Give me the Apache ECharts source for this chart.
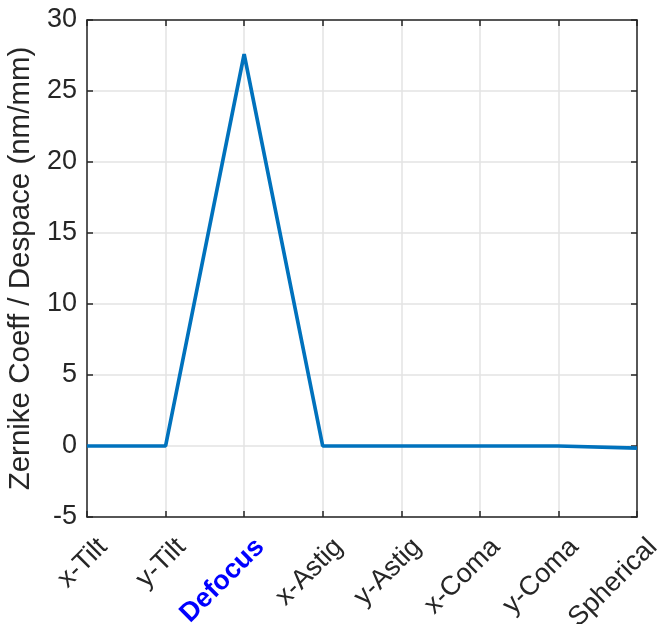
<!DOCTYPE html>
<html>
<head>
<meta charset="utf-8">
<script src="https://cdn.jsdelivr.net/npm/echarts@6/dist/echarts.min.js"></script>
<style>html,body{margin:0;padding:0;background:#fff;}#c{width:662px;height:624px;}</style>
</head>
<body>
<div id="c"></div>
<script>
const categories = ['x-Tilt', 'y-Tilt', 'Defocus', 'x-Astig', 'y-Astig', 'x-Coma', 'y-Coma', 'Spherical'];
const values = [0, 0, 27.6, 0, 0, 0, 0, -0.15];
const yTicks = { min: -5, max: 30, interval: 5 };
const highlighted = 'Defocus';

const axisColor = '#262626';
const font = 'Liberation Sans, Arial, Helvetica, sans-serif';
const chart = echarts.init(document.getElementById('c'), null, { renderer: 'canvas' });
chart.setOption({
  animation: false,
  grid: { left: 87, top: 20, right: 25, bottom: 107, containLabel: false, outerBoundsMode: 'none' },
  xAxis: [{
    type: 'category', data: categories, boundaryGap: false,
    axisLine: { onZero: false, lineStyle: { color: axisColor, width: 1.5 } },
    axisTick: { inside: true, length: 6, alignWithLabel: true, lineStyle: { color: axisColor, width: 1.5 } },
    splitLine: { show: true, lineStyle: { color: '#e3e3e3', width: 1.5 } },
    axisLabel: {
      rotate: 45, margin: 10, interval: 0, color: axisColor, fontFamily: font, fontSize: 27,
      verticalAlign: 'top', padding: [9, 0, 0, 0], hideOverlap: false,
      formatter: v => v === highlighted ? '{h|' + v + '}' : v,
      rich: { h: { color: '#0000ff', fontWeight: 'bold', fontSize: 27, fontFamily: font } }
    }
  }, {
    type: 'category', data: categories, boundaryGap: false, position: 'top',
    axisLine: { show: true, onZero: false, lineStyle: { color: axisColor, width: 1.5 } },
    axisTick: { inside: true, length: 6, lineStyle: { color: axisColor, width: 1.5 } },
    axisLabel: { show: false }, splitLine: { show: false }
  }],
  yAxis: [{
    type: 'value', min: yTicks.min, max: yTicks.max, interval: yTicks.interval,
    name: 'Zernike Coeff / Despace (nm/mm)', nameLocation: 'middle', nameGap: 49,
    nameTextStyle: { color: axisColor, fontFamily: font, fontSize: 29.5 },
    axisLine: { show: true, onZero: false, lineStyle: { color: axisColor, width: 1.5 } },
    axisTick: { show: true, inside: true, length: 6, lineStyle: { color: axisColor, width: 1.5 } },
    splitLine: { show: true, lineStyle: { color: '#e3e3e3', width: 1.5 } },
    axisLabel: { color: axisColor, fontFamily: font, fontSize: 27, margin: 10 }
  }, {
    type: 'value', min: yTicks.min, max: yTicks.max, interval: yTicks.interval, position: 'right',
    axisLine: { show: true, onZero: false, lineStyle: { color: axisColor, width: 1.5 } },
    axisTick: { show: true, inside: true, length: 6, lineStyle: { color: axisColor, width: 1.5 } },
    axisLabel: { show: false }, splitLine: { show: false }
  }],
  series: [{
    type: 'line', data: values, symbol: 'none',
    lineStyle: { color: '#0072BD', width: 3.7 }
  }]
});
</script>
</body>
</html>
